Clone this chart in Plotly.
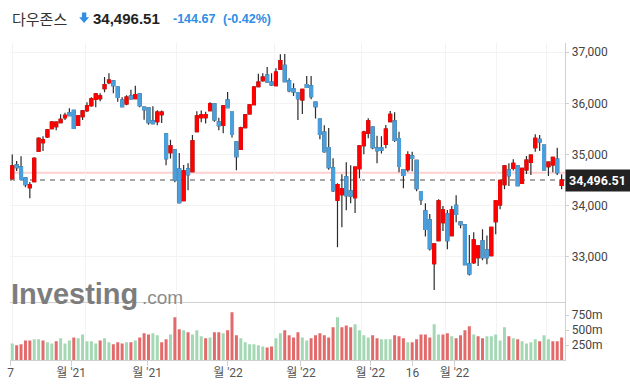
import plotly.graph_objects as go

W, H = 630, 391

opens = [34524, 34792, 34753, 34537, 34348, 34466, 35060, 35230, 35341, 35504,
         35543, 35621, 35719, 35811, 35863, 35569, 35739, 35856, 35954, 36078,
         36092, 36287, 36405, 36438, 36320, 36065, 35987, 36144, 36092, 36183,
         35928, 35909, 35654, 35641, 35778, 35400, 35034, 35086, 34714, 34093,
         34714, 34662, 35445, 35720, 35720, 35857, 35987, 35635, 35569, 36066,
         35830, 35243, 35099, 35524, 35791, 35974, 36327, 36444, 36555, 36418,
         36346, 36666, 36745, 36438, 36281, 36209, 36066, 36366, 36340, 36026,
         35690, 35438, 35131, 34733, 34100, 34211, 34557, 34282, 34152, 34720,
         35170, 35412, 35536, 35125, 35125, 35197, 35641, 35654, 35308, 34700,
         34700, 34968, 34883, 34269, 33891, 33714, 32859, 33309, 33662, 33832,
         33407, 34001, 33675, 33616, 32852, 32878, 32976, 33303, 33126, 33015,
         33681, 34008, 34406, 34694, 34726, 34772, 34432, 34694, 34844, 35131,
         35294, 35183, 34759, 34791, 34909, 34393]
highs = [34999, 34870, 34962, 34550, 34459, 34942, 35334, 35354, 35497, 35654,
         35641, 35785, 35817, 35902, 35863, 35772, 35869, 36020, 36118, 36203,
         36196, 36516, 36588, 36457, 36333, 36118, 36157, 36268, 36346, 36183,
         35928, 35909, 35941, 35863, 35857, 35400, 35288, 35086, 35027, 34792,
         34825, 35380, 35844, 35857, 35837, 36020, 35987, 35719, 35967, 36222,
         35830, 35243, 35543, 35791, 35968, 36340, 36581, 36588, 36712, 36588,
         36686, 36960, 36967, 36490, 36392, 36209, 36275, 36536, 36536, 36026,
         35690, 35569, 35517, 34922, 34433, 34609, 34844, 34785, 34752, 35164,
         35464, 35706, 35549, 35366, 35353, 35575, 35850, 35823, 35445, 34700,
         35059, 35053, 34883, 34269, 34041, 33832, 33250, 34119, 33988, 33910,
         33988, 34197, 33675, 33616, 33420, 33472, 33205, 33531, 33407, 33570,
         34086, 34491, 34772, 34824, 34902, 34772, 34726, 34968, 34987, 35392,
         35379, 35183, 34850, 34942, 35131, 34609]
lows = [34500, 34674, 34500, 34355, 34139, 34466, 35060, 35066, 35321, 35491,
        35471, 35608, 35673, 35758, 35504, 35569, 35673, 35830, 35935, 35922,
        36039, 36216, 36372, 36196, 36033, 35935, 35961, 36085, 36092, 35922,
        35680, 35582, 35589, 35569, 35615, 34786, 34916, 34453, 34035, 34093,
        34296, 34662, 35445, 35628, 35602, 35857, 35641, 35471, 35412, 35915,
        35328, 34688, 35099, 35524, 35791, 35974, 36314, 36425, 36405, 36340,
        36346, 36666, 36425, 36216, 36144, 35674, 35791, 36314, 36079, 35700,
        35294, 35033, 34700, 34263, 33179, 33571, 33904, 34041, 33851, 34530,
        35001, 35314, 35099, 34824, 35014, 35118, 35641, 35242, 34648, 34335,
        34661, 34668, 34276, 34008, 33388, 33113, 32343, 33309, 33499, 33139,
        33407, 33668, 33551, 32839, 32624, 32852, 32813, 32924, 32846, 33015,
        33433, 33923, 34315, 34380, 34681, 34374, 34432, 34615, 34596, 35053,
        35066, 34694, 34576, 34648, 34596, 34315]
closes = [34772, 34740, 34511, 34407, 34400, 34923, 35314, 35282, 35478, 35634,
          35630, 35687, 35765, 35758, 35510, 35752, 35850, 35948, 36085, 36183,
          36144, 36366, 36457, 36346, 36118, 35935, 36124, 36085, 36170, 35954,
          35876, 35621, 35602, 35830, 35830, 34916, 35164, 34492, 34054, 34675,
          34603, 35262, 35752, 35772, 35778, 35987, 35674, 35563, 35948, 35915,
          35393, 34955, 35517, 35772, 35968, 36320, 36418, 36516, 36418, 36359,
          36614, 36836, 36425, 36248, 36222, 36092, 36275, 36314, 36131, 35935,
          35392, 35053, 34739, 34289, 34406, 34322, 34191, 34180, 34752, 35164,
          35438, 35654, 35131, 35072, 35080, 35497, 35784, 35275, 34766, 34589,
          34994, 34922, 34328, 34113, 33530, 33152, 33244, 34086, 33910, 33309,
          33910, 33825, 33622, 32839, 32656, 33322, 33205, 32976, 32976, 33570,
          34086, 34491, 34772, 34583, 34824, 34387, 34726, 34889, 34987, 35314,
          35242, 34694, 34850, 34942, 34641.18, 34496.51]
# volume in millions
volumes_m = [277, 244, 261, 327, 327, 344, 344, 327, 294, 277,
             311, 361, 277, 327, 377, 361, 427, 311, 311, 277,
             327, 361, 294, 261, 294, 277, 294, 294, 327, 377,
             444, 427, 444, 411, 294, 344, 427, 711, 511, 494,
             461, 427, 494, 394, 361, 377, 461, 461, 444, 494,
             794, 411, 361, 294, 261, 261, 244, 227, 210, 227,
             361, 444, 494, 411, 377, 461, 377, 327, 361, 411,
             444, 411, 377, 544, 711, 544, 577, 544, 594, 494,
             411, 377, 411, 361, 344, 344, 344, 411, 394, 361,
             294, 294, 344, 427, 427, 377, 594, 427, 427, 444,
             394, 361, 411, 494, 561, 427, 394, 361, 394, 394,
             427, 327, 544, 394, 361, 344, 311, 277, 294, 344,
             311, 411, 344, 311, 311, 377]
# 1 = volume bar shown green (up), 0 = red (down)
vol_up = [1, 0, 0, 0, 0, 1, 1, 0, 1, 1,
          0, 1, 1, 1, 0, 1, 1, 1, 1, 1,
          0, 1, 1, 0, 0, 0, 1, 0, 1, 0,
          0, 0, 1, 1, 0, 0, 1, 0, 0, 1,
          0, 1, 1, 1, 0, 1, 0, 0, 1, 0,
          0, 0, 1, 1, 1, 1, 1, 1, 0, 0,
          1, 1, 0, 0, 0, 0, 1, 1, 0, 0,
          0, 0, 0, 0, 1, 0, 0, 0, 1, 1,
          1, 1, 0, 0, 1, 1, 1, 0, 0, 0,
          1, 0, 0, 0, 0, 0, 1, 1, 0, 0,
          1, 0, 0, 0, 0, 1, 0, 0, 1, 1,
          1, 1, 1, 0, 1, 0, 1, 1, 1, 1,
          0, 1, 1, 0, 0, 0]

price_ticks = [33000, 34000, 35000, 36000, 37000]
vol_ticks = [250, 500, 750]
# month boundary positions (in candle index units) where grid lines sit
grid_pos = [0, 16.58, 37.41, 59.56, 79.57, 98.55, 110.15, 121.65]
x_labels = ["7", "월 '21", "월 '21", "월 '22", "월 '22", "월 '22", "16", "월 '22"]

name = "다우존스"

# ---------------- layout geometry ----------------
X0, X1 = 7, 565          # plot left/right px
SP = 4.416               # px per candle
FIRST = 9.3              # px of first candle
xa = -(FIRST - X0) / SP
xb = xa + (X1 - X0) / SP
LABEL_SCALE = 0.83       # tick labels are drawn on a compressed scale in the reference


def fy(px):
    return 1 - px / H


def fx(px):
    return px / W


n = len(closes)
idx = list(range(n))
body_hi = [max(o, c) for o, c in zip(opens, closes)]
body_lo = [min(o, c) for o, c in zip(opens, closes)]

# label axis positions
label_pos = []
for g in grid_pos:
    gpx = FIRST + g * SP
    label_pos.append(xa + (LABEL_SCALE * gpx - X0) / SP)

UP = '#ff0000'
DN = '#4a9fdc'
WICK = '#2b2b2b'

fig = go.Figure()
fig.add_trace(go.Candlestick(
    x=idx, open=opens, high=highs, low=lows, close=closes,
    increasing=dict(line=dict(color=WICK, width=1.2), fillcolor=WICK),
    decreasing=dict(line=dict(color=WICK, width=1.2), fillcolor=WICK),
    whiskerwidth=0, xaxis='x', yaxis='y', hoverinfo='skip', showlegend=False))
fig.add_trace(go.Candlestick(
    x=idx, open=opens, high=body_hi, low=body_lo, close=closes,
    increasing=dict(line=dict(color=UP, width=1.2), fillcolor=UP),
    decreasing=dict(line=dict(color=DN, width=1.2), fillcolor=DN),
    whiskerwidth=0, xaxis='x', yaxis='y', hoverinfo='skip', showlegend=False))

vcol = ['#a4d8b4' if u else '#e26a6a' for u in vol_up]
fig.add_trace(go.Bar(x=idx, y=volumes_m, marker=dict(color=vcol, line=dict(width=0)),
                     width=0.68, xaxis='x2', yaxis='y2', hoverinfo='skip', showlegend=False))
fig.add_trace(go.Scatter(x=[xa], y=[0], mode='markers', marker=dict(opacity=0),
                         xaxis='x3', yaxis='y2', hoverinfo='skip', showlegend=False))

axfont = dict(family='Roboto, Arial, sans-serif', size=12, color='#444')
LINE = '#d0d0d0'
GRID = '#f3f3f3'

fig.update_layout(
    width=W, height=H,
    margin=dict(l=0, r=0, t=0, b=0),
    paper_bgcolor='white', plot_bgcolor='white',
    showlegend=False, boxgap=0.35, boxgroupgap=0.0,
    xaxis=dict(domain=[fx(X0), fx(X1)], range=[xa, xb], anchor='y',
               tickvals=grid_pos, showticklabels=False, ticks='',
               showgrid=True, gridcolor=GRID, gridwidth=1,
               showline=True, linecolor=LINE, linewidth=1, zeroline=False,
               rangeslider=dict(visible=False), fixedrange=True),
    xaxis2=dict(domain=[fx(X0), fx(X1)], range=[xa, xb], anchor='y2', matches='x',
                tickvals=grid_pos, showticklabels=False, ticks='',
                showgrid=True, gridcolor=GRID, gridwidth=1,
                showline=True, linecolor=LINE, linewidth=1, zeroline=False),
    xaxis3=dict(overlaying='x2', anchor='y2', range=[xa, xb], side='bottom',
                tickvals=label_pos, ticktext=x_labels, ticks='outside', ticklen=5,
                ticklabelstandoff=-3,
                tickcolor=LINE, showgrid=False, showline=False, zeroline=False,
                tickfont=dict(family='Roboto, "Noto Sans CJK KR", sans-serif', size=12, color='#555')),
    yaxis=dict(domain=[fy(302), fy(43)], range=[32106, 37182], side='right', anchor='x',
               tickvals=price_ticks, ticktext=[f"{v:,}" for v in price_ticks],
               ticks='outside', ticklen=3, tickcolor=LINE, tickfont=axfont,
               showgrid=True, gridcolor=GRID, showline=True, linecolor=LINE,
               zeroline=False, fixedrange=True),
    yaxis2=dict(domain=[fy(360), fy(303)], range=[0, 950], side='right', anchor='x2',
                tickvals=vol_ticks, ticktext=[f"{v}m" for v in vol_ticks],
                ticks='outside', ticklen=3, tickcolor=LINE, tickfont=axfont,
                showgrid=False, showline=True, linecolor=LINE, zeroline=False),
)

last = closes[-1]
prev = closes[-2]
chg = last - prev
pct = chg / prev * 100

shapes = [
    dict(type='line', xref='x', yref='y', x0=xa, x1=xb, y0=prev, y1=prev,
         line=dict(color='rgba(255,120,120,0.35)', width=2), layer='below'),
    dict(type='line', xref='x', yref='y', x0=xa, x1=xb, y0=last, y1=last,
         line=dict(color='#8a8a8a', width=1.5, dash='5px,5px'), layer='below'),
    # down-arrow icon in header
    dict(type='path', xref='paper', yref='paper',
         path=(f"M {fx(79.3)} {fy(12.5)} L {fx(83.7)} {fy(12.5)} L {fx(83.7)} {fy(17.2)} "
               f"L {fx(86.5)} {fy(17.2)} L {fx(81.5)} {fy(23)} L {fx(76.5)} {fy(17.2)} "
               f"L {fx(79.3)} {fy(17.2)} Z"),
         fillcolor='#2f8de4', line=dict(width=0), layer='above'),
]

BLUE = '#2f8de4'
ann = [
    dict(text=name, x=fx(7), y=fy(18), xref='paper', yref='paper', xanchor='left', yanchor='middle',
         showarrow=False, font=dict(family='"Noto Sans CJK KR", sans-serif', size=15, color='#333')),
    dict(text=f"<b>{last:,.2f}</b>", x=fx(88), y=fy(18.5), xref='paper', yref='paper',
         xanchor='left', yanchor='middle', showarrow=False,
         font=dict(family='"Liberation Sans", Arial, sans-serif', size=15, color='#222')),
    dict(text=f"<b>{chg:,.2f}</b>", x=fx(168.5), y=fy(19), xref='paper', yref='paper',
         xanchor='left', yanchor='middle', showarrow=False,
         font=dict(family='"Liberation Sans", Arial, sans-serif', size=12.5, color=BLUE)),
    dict(text=f"<b>({pct:.2f}%)</b>", x=fx(219.5), y=fy(19), xref='paper', yref='paper',
         xanchor='left', yanchor='middle', showarrow=False,
         font=dict(family='"Liberation Sans", Arial, sans-serif', size=12.5, color=BLUE)),
    # price label box
    dict(text=f"<b>{last:,.2f}</b>", x=fx(565), y=last, xref='paper', yref='y',
         xanchor='left', yanchor='middle', showarrow=False, align='left',
         bgcolor='#222222', borderpad=3, width=58,
         font=dict(family='Roboto, Arial, sans-serif', size=12.5, color='white')),
    # watermark
    dict(text="<b>Investing</b>", x=fx(6), y=fy(294), xref='paper', yref='paper',
         xanchor='left', yanchor='middle', showarrow=False,
         font=dict(family='"Liberation Sans", Arial, sans-serif', size=29, color='#7d7d7d')),
    dict(text=".com", x=fx(138), y=fy(297.5), xref='paper', yref='paper',
         xanchor='left', yanchor='middle', showarrow=False,
         font=dict(family='"Liberation Sans", Arial, sans-serif', size=19, color='#8c8c8c')),
]
fig.update_layout(shapes=shapes, annotations=ann)

fig.write_html("out.html",
               config={'displayModeBar': False, 'staticPlot': True},
               post_script="document.body.style.margin='0px';document.body.style.padding='0px';"
                           "document.body.style.overflow='hidden';")
